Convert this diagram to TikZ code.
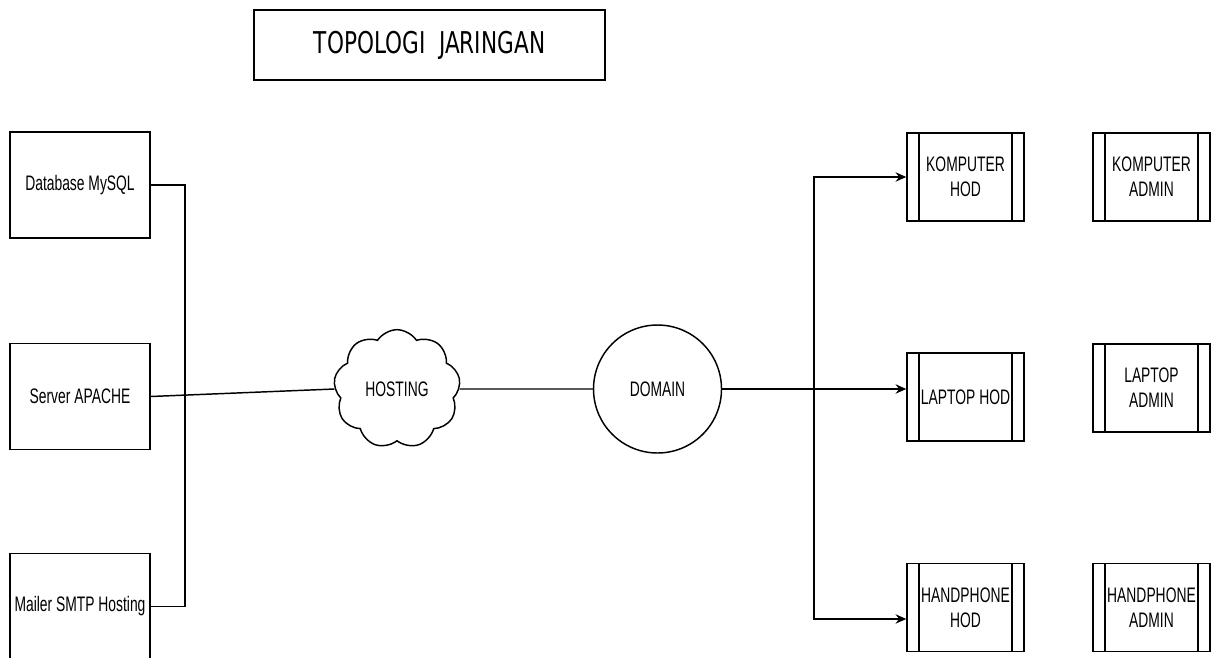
\documentclass[tikz,border=0pt]{standalone}
\usepackage{fontspec}
\setmainfont{Liberation Sans}[FakeStretch=0.66]
\newfontfamily\titlefont{DejaVu Sans}[FakeStretch=0.72]
\usetikzlibrary{shapes.symbols, arrows.meta}

\tikzset{
  lbl/.style={font=\fontsize{15.75}{18.75}\selectfont, align=center},
  box/.style={draw, line width=1.1pt, lbl, inner sep=0pt,
    minimum width=105pt, minimum height=79.5pt},
  dev/.style={draw, line width=1.1pt, lbl, inner sep=0pt,
    minimum width=87.75pt, minimum height=66pt,
    path picture={
      \draw[line width=1.1pt] ([xshift=9pt]path picture bounding box.north west)
        -- ([xshift=9pt]path picture bounding box.south west);
      \draw[line width=1.1pt] ([xshift=-9pt]path picture bounding box.north east)
        -- ([xshift=-9pt]path picture bounding box.south east);}},
  link/.style={line width=1.1pt},
  arr/.style={link, -{Stealth[length=8pt, width=7pt]}}
}

\begin{document}
\begin{tikzpicture}[x=0.75pt, y=-0.75pt]
  \useasboundingbox (0,0) rectangle (1216,657);

  \node[draw, line width=1.1pt, minimum width=263.25pt, minimum height=52.5pt,
    font=\titlefont\fontsize{22.5}{24}\selectfont] (title) at (429.5,45) {TOPOLOGI\ \ JARINGAN};

  % server side
  \node[box] (db) at (80,185) {Database MySQL};
  \node[box] (apache) at (80,396.5) {Server APACHE};
  \node[box] (mailer) at (80,606.5) {Mailer SMTP Hosting};
  \coordinate (lbus) at (185,397);

  \node[cloud, draw, line width=1.1pt, cloud puffs=9, cloud puff arc=115,
    minimum width=95pt, minimum height=89pt, inner sep=0pt, lbl] (hosting) at (397,389) {HOSTING};
  \node[circle, draw, line width=1.1pt, minimum size=96pt, inner sep=0pt, lbl] (domain) at (657.5,389) {DOMAIN};
  \coordinate (rbus) at (814,389);

  % clients
  \node[dev] (khod) at (965.5,177) {KOMPUTER\\HOD};
  \node[dev] (lhod) at (965.5,397) {LAPTOP HOD};
  \node[dev] (hhod) at (965.5,607.5) {HANDPHONE\\HOD};
  \node[dev] (kadm) at (1151.5,177) {KOMPUTER\\ADMIN};
  \node[dev] (ladm) at (1151.5,388) {LAPTOP\\ADMIN};
  \node[dev] (hadm) at (1151.5,607.5) {HANDPHONE\\ADMIN};

  \draw[link] (db.east) -| (lbus) |- (mailer.east);
  \draw[link] (apache.east) -- (hosting.west);
  \draw[link] (hosting.east) -- (domain.west);
  \draw[link] (domain.east) -- (rbus);
  \draw[arr] (rbus) |- (khod.west);
  \draw[arr] (rbus) -- (rbus -| lhod.west);
  \draw[arr] (rbus) |- ([yshift=-8.6pt]hhod.west);
\end{tikzpicture}
\end{document}
